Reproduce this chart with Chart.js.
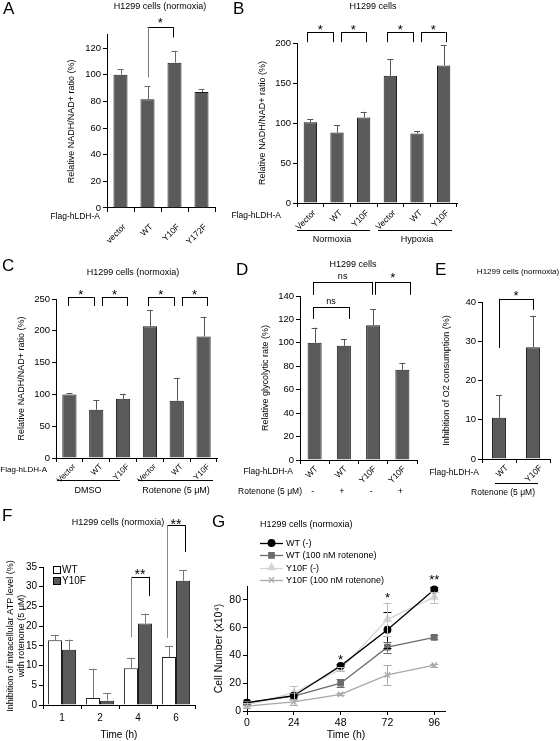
<!DOCTYPE html>
<html><head><meta charset="utf-8">
<script src="https://cdn.jsdelivr.net/npm/chart.js@4.4.1/dist/chart.umd.min.js"></script>
<style>
html,body{margin:0;padding:0;background:#fff;}
#wrap{position:relative;width:560px;height:741px;overflow:hidden;background:#fff;}
#wrap canvas{position:absolute;left:0;top:0;}
</style></head><body>
<div id="wrap">
<canvas id="cA" width="560" height="741"></canvas>
<canvas id="cB" width="560" height="741"></canvas>
<canvas id="cC" width="560" height="741"></canvas>
<canvas id="cD" width="560" height="741"></canvas>
<canvas id="cE" width="560" height="741"></canvas>
<canvas id="cF" width="560" height="741"></canvas>
<canvas id="cG" width="560" height="741"></canvas>
</div>
<script>
// ---------------- DATA ----------------
const aCats = ['vector', 'WT', 'Y10F', 'Y172F'];
const aVals = [100, 81.5, 109, 87];
const aErr  = [4, 10, 9, 2];

const bCats = ['Vector', 'WT', 'Y10F', 'Vector', 'WT', 'Y10F'];
const bVals = [101, 88, 107, 159, 87, 172];
const bErr  = [4, 9, 7, 21, 3, 25];
const bGroups = ['Normoxia', 'Hypoxia'];

const cCats = ['Vector', 'WT', 'Y10F', 'Vector', 'WT', 'Y10F'];
const cVals = [100, 76, 93, 207, 90, 191];
const cErr  = [2, 15, 8, 26, 36, 31];
const cGroups = ['DMSO', 'Rotenone (5 \u03bcM)'];

const dCats = ['WT', 'WT', 'Y10F', 'Y10F'];
const dRotenone = ['-', '+', '-', '+'];
const dVals = [100, 97.5, 115, 77];
const dErr  = [13, 5.5, 13.5, 5.5];

const eCats = ['WT', 'Y10F'];
const eVals = [10.5, 28.5];
const eErr  = [5.7, 8];

const fTimes = ['1', '2', '4', '6'];
const fWT     = [16.4, 1.8, 9.3, 12.2];
const fWTErr  = [1.4, 7.4, 2.7, 2.8];
const fY10F    = [14, 1.1, 20.7, 31.5];
const fY10FErr = [2.6, 1.9, 2.5, 2.7];

const gTimes = [0, 24, 48, 72, 96];
const gWT        = [6, 11, 32.5, 58.5, 87.5];
const gWTErr     = [1, 2, 1, 13, 1.5];
const gWTRot     = [6, 10.7, 20, 46, 53];
const gWTRotErr  = [1, 2, 3, 4, 1.5];
const gY10F      = [4.5, 13, 30, 66, 82];
const gY10FErr   = [1, 5, 1.5, 12, 4];
const gY10FRot   = [3.5, 6.5, 12, 26, 33];
const gY10FRotErr= [1, 2, 0.8, 7, 1];

// ---------------- HELPERS ----------------
const FONT = "'Liberation Sans', Arial, Helvetica, sans-serif";
const BAR = '#5a5a5a';

function txt(ctx, s, x, y, o = {}) {
  ctx.save();
  ctx.font = (o.size || 9) + 'px ' + FONT;
  ctx.fillStyle = o.color || '#000';
  ctx.textAlign = o.align || 'center';
  ctx.textBaseline = o.base || 'middle';
  ctx.fillText(s, x, y);
  ctx.restore();
}
function seg(ctx, x1, y1, x2, y2, color = '#000', w = 1) {
  ctx.save();
  ctx.strokeStyle = color; ctx.lineWidth = w;
  ctx.beginPath();
  if (x1 === x2) { const x = Math.round(x1) + 0.5; ctx.moveTo(x, y1); ctx.lineTo(x, y2); }
  else if (y1 === y2) { const y = Math.round(y1) + 0.5; ctx.moveTo(x1, y); ctx.lineTo(x2, y); }
  else { ctx.moveTo(x1, y1); ctx.lineTo(x2, y2); }
  ctx.stroke(); ctx.restore();
}
function star(ctx, s, x, yPix, size = 13) {
  txt(ctx, s, x, yPix + 0.57 * size, { size, base: 'alphabetic' });
}
function letter(ctx, s, x, y) {
  txt(ctx, s, x, y, { size: 17, align: 'left', base: 'top' });
}
function bracket(ctx, x1, x2, yTop, yL, yR, cL = '#000', cR = '#000') {
  seg(ctx, x1, yTop, x2, yTop, '#000');
  seg(ctx, x1, yTop, x1, yL, cL);
  seg(ctx, x2, yTop, x2, yR, cR);
}
function barErrors(chart, di, errs, color, cap) {
  const ctx = chart.ctx, y = chart.scales.y;
  const vals = chart.data.datasets[di].data;
  chart.getDatasetMeta(di).data.forEach((el, j) => {
    const y0 = y.getPixelForValue(vals[j]);
    const y1 = y.getPixelForValue(vals[j] + errs[j]);
    seg(ctx, el.x, y0, el.x, y1, color);
    seg(ctx, el.x - cap / 2, y1, el.x + cap / 2, y1, color);
  });
}

function makeBar(id, o) {
  const nLines = Array.isArray(o.yTitle) ? o.yTitle.length : 1;
  const lh = o.titleSize * (o.titleLH || 1.2) * nLines;
  const padLeft = o.yTitleX - lh / 2;
  const yW = o.plot.l - padLeft;
  const datasets = o.series.map(s => ({
    data: s.data, backgroundColor: s.bg, borderColor: '#1e1e1e', borderWidth: 1,
    borderSkipped: 'bottom', barPercentage: o.barPct, categoryPercentage: o.catPct
  }));
  return new Chart(document.getElementById(id), {
    type: 'bar',
    data: { labels: o.cats, datasets },
    options: {
      responsive: false, animation: false, events: [],
      layout: { padding: { left: padLeft, top: o.plot.t, right: 560 - o.plot.r, bottom: 741 - o.plot.b - o.xH } },
      plugins: { legend: { display: false }, tooltip: { enabled: false } },
      scales: {
        x: {
          type: 'category', offset: true,
          grid: { offset: true, drawOnChartArea: false, tickLength: 4, color: '#000' },
          border: { color: '#000', width: 1 },
          ticks: { autoSkip: false, minRotation: o.rot, maxRotation: o.rot, font: { family: FONT, size: o.xFont }, color: '#000', padding: o.xPad, labelOffset: o.xOff || 0 },
          title: o.xTitle ? { display: true, text: o.xTitle, font: { family: FONT, size: o.xTitleSize }, color: '#000', padding: 0 } : { display: false },
          afterFit: s => { s.height = o.xH; }
        },
        y: {
          min: 0, max: o.ymax,
          ticks: { stepSize: o.step, font: { family: FONT, size: o.yFont }, color: '#000', padding: 2,
                   callback: v => (Math.abs(v % o.labelStep) < 1e-9 ? String(v) : '') },
          grid: { drawOnChartArea: false, tickLength: 4, color: '#000' },
          border: { color: '#000', width: 1 },
          title: { display: true, text: o.yTitle, font: { family: FONT, size: o.titleSize, lineHeight: o.titleLH || 1.2 }, color: '#000', padding: 0 },
          afterFit: s => { s.width = yW; }
        }
      }
    },
    plugins: [{ id: 'ov' + id, afterDraw(chart) { o.draw(chart, chart.ctx); } }]
  });
}

// pairs: [i, j, dx1, dx2]
function pairBrackets(chart, ctx, pairs, topV, legV, starV) {
  const y = chart.scales.y, m = chart.getDatasetMeta(0).data;
  pairs.forEach(([i, j, dx1, dx2]) => {
    const x1 = m[i].x + dx1, x2 = m[j].x + dx2;
    bracket(ctx, x1, x2, y.getPixelForValue(topV), y.getPixelForValue(legV), y.getPixelForValue(legV));
    star(ctx, '*', (x1 + x2) / 2, y.getPixelForValue(starV), 13);
  });
}

// ---------------- PANEL A ----------------
makeBar('cA', {
  cats: aCats, series: [{ data: aVals, bg: BAR }],
  plot: { l: 107, r: 215, t: 34.7, b: 208 }, ymax: 130, step: 10, labelStep: 20,
  yTitle: 'Relative NADH/NAD+ ratio (%)', yTitleX: 72, titleSize: 9,
  rot: 45, xFont: 8.5, xPad: 10, xOff: 4, xH: 50, yFont: 9.5, barPct: 0.52, catPct: 1,
  draw(chart, ctx) {
    barErrors(chart, 0, aErr, '#6a6a6a', 6);
    const y = chart.scales.y, m = chart.getDatasetMeta(0).data;
    const x1 = m[1].x, x2 = m[2].x - 1.5;
    bracket(ctx, x1, x2, y.getPixelForValue(135.7), y.getPixelForValue(98), y.getPixelForValue(128), '#777', '#000');
    star(ctx, '*', (x1 + x2) / 2, y.getPixelForValue(141), 13);
    txt(ctx, 'Flag-hLDH-A', 100, 217, { align: 'right', size: 8.5 });
    txt(ctx, 'H1299 cells (normoxia)', 160, 7, { size: 9 });
    letter(ctx, 'A', 3, 1);
  }
});

// ---------------- PANEL B ----------------
makeBar('cB', {
  cats: bCats, series: [{ data: bVals, bg: BAR }],
  plot: { l: 297, r: 457, t: 43, b: 203 }, ymax: 200, step: 50, labelStep: 50,
  yTitle: 'Relative NADH/NAD+ ratio (%)', yTitleX: 263, titleSize: 9,
  rot: 45, xFont: 8.5, xPad: 1, xOff: 4, xH: 50, yFont: 9.5, barPct: 0.5, catPct: 1,
  draw(chart, ctx) {
    barErrors(chart, 0, bErr, '#555', 6);
    pairBrackets(chart, ctx, [[0, 1, -3, -4], [1, 2, 4, 2], [3, 4, -3, -4], [4, 5, 4, 2]], 213.75, 201, 220);
    txt(ctx, 'Flag-hLDH-A', 281, 216, { align: 'right', size: 8.5 });
    seg(ctx, 297, 230, 370, 230); seg(ctx, 378, 230, 452, 230);
    txt(ctx, bGroups[0], 332, 240, { size: 9 });
    txt(ctx, bGroups[1], 417, 240, { size: 9 });
    txt(ctx, 'H1299 cells', 373, 7, { size: 9 });
    letter(ctx, 'B', 233, 1);
  }
});

// ---------------- PANEL C ----------------
makeBar('cC', {
  cats: cCats, series: [{ data: cVals, bg: BAR }],
  plot: { l: 56, r: 217, t: 299, b: 458 }, ymax: 250, step: 50, labelStep: 50,
  yTitle: 'Relative NADH/NAD+ ratio (%)', yTitleX: 22, titleSize: 9,
  rot: 45, xFont: 8, xPad: 0, xOff: 5, xH: 50, yFont: 9.5, barPct: 0.53, catPct: 1,
  draw(chart, ctx) {
    barErrors(chart, 0, cErr, '#555', 6);
    pairBrackets(chart, ctx, [[0, 1, -1.5, -2.5], [1, 2, 5.5, 4], [3, 4, -2, -3], [4, 5, 5, 3.5]], 253, 239, 261);
    txt(ctx, 'Flag-hLDH-A', 47, 470, { align: 'right', size: 8 });
    seg(ctx, 57, 480, 120, 480); seg(ctx, 138, 480, 213, 480);
    txt(ctx, cGroups[0], 88, 490.5, { size: 9 });
    txt(ctx, cGroups[1], 176, 490.5, { size: 9 });
    txt(ctx, 'H1299 cells (normoxia)', 133, 273, { size: 9 });
    letter(ctx, 'C', 2, 258);
  }
});

// ---------------- PANEL D ----------------
makeBar('cD', {
  cats: dCats, series: [{ data: dVals, bg: BAR }],
  plot: { l: 300, r: 417, t: 296, b: 460 }, ymax: 140, step: 20, labelStep: 20,
  yTitle: 'Relative glycolytic rate (%)', yTitleX: 266, titleSize: 9,
  rot: 45, xFont: 8.5, xPad: 0, xOff: 2, xH: 50, yFont: 9.5, barPct: 0.48, catPct: 1,
  draw(chart, ctx) {
    barErrors(chart, 0, dErr, '#555', 6);
    const y = chart.scales.y, m = chart.getDatasetMeta(0).data;
    let x1 = m[0].x - 1.5, x2 = m[2].x - 1;
    bracket(ctx, x1, x2, y.getPixelForValue(152), y.getPixelForValue(141), y.getPixelForValue(141));
    txt(ctx, 'ns', (x1 + x2) / 2, y.getPixelForValue(156.5), { size: 9 });
    x2 = m[1].x + 5;
    bracket(ctx, x1, x2, y.getPixelForValue(130.6), y.getPixelForValue(120.4), y.getPixelForValue(120.4));
    txt(ctx, 'ns', (x1 + x2) / 2, y.getPixelForValue(135), { size: 9 });
    x1 = m[2].x + 2; x2 = m[3].x + 8;
    bracket(ctx, x1, x2, y.getPixelForValue(152), y.getPixelForValue(141), y.getPixelForValue(141));
    star(ctx, '*', (x1 + x2) / 2, y.getPixelForValue(158), 13);
    txt(ctx, 'Flag-hLDH-A', 293, 472, { align: 'right', size: 8.5 });
    txt(ctx, 'Rotenone (5 \u03bcM)', 302, 492, { align: 'right', size: 8.5 });
    m.forEach((el, i) => txt(ctx, dRotenone[i], el.x - 2, 492, { size: 9 }));
    txt(ctx, 'H1299 cells', 353, 265, { size: 9 });
    letter(ctx, 'D', 236, 262);
  }
});

// ---------------- PANEL E ----------------
makeBar('cE', {
  cats: eCats, series: [{ data: eVals, bg: BAR }],
  plot: { l: 482, r: 550, t: 302, b: 459 }, ymax: 40, step: 10, labelStep: 10,
  yTitle: 'Inhibition of O2 consumption (%)', yTitleX: 447, titleSize: 9,
  rot: 45, xFont: 8.5, xPad: 0, xOff: 8, xH: 50, yFont: 9.5, barPct: 0.41, catPct: 1,
  draw(chart, ctx) {
    barErrors(chart, 0, eErr, '#555', 6);
    const y = chart.scales.y, m = chart.getDatasetMeta(0).data;
    const x1 = m[0].x, x2 = m[1].x;
    bracket(ctx, x1, x2, y.getPixelForValue(40.8), y.getPixelForValue(28.3), y.getPixelForValue(38));
    star(ctx, '*', (x1 + x2) / 2, y.getPixelForValue(42.5), 13);
    txt(ctx, 'Flag-hLDH-A', 479, 473, { align: 'right', size: 8.5 });
    seg(ctx, 495, 483, 538, 483);
    txt(ctx, 'Rotenone (5 \u03bcM)', 503, 493, { size: 8.5 });
    txt(ctx, 'H1299 cells (normoxia)', 518, 272, { size: 8 });
    letter(ctx, 'E', 435, 262);
  }
});

// ---------------- PANEL F ----------------
makeBar('cF', {
  cats: fTimes, series: [{ data: fWT, bg: '#ffffff' }, { data: fY10F, bg: BAR }],
  plot: { l: 43, r: 195, t: 567, b: 705 }, ymax: 35, step: 5, labelStep: 5,
  yTitle: ['Inhibition of intracellular ATP level (%)', 'with rotenone (5 \u03bcM)'], yTitleX: 16.5, titleSize: 9, titleLH: 1.22,
  rot: 0, xFont: 10, xPad: 3, xH: 36, xTitle: 'Time (h)', xTitleSize: 10, yFont: 10, barPct: 1, catPct: 0.74,
  draw(chart, ctx) {
    barErrors(chart, 0, fWTErr, '#777', 8);
    barErrors(chart, 1, fY10FErr, '#777', 8);
    const y = chart.scales.y, w = chart.getDatasetMeta(0).data, yf = chart.getDatasetMeta(1).data;
    let x1 = w[2].x, x2 = yf[2].x + 4;
    bracket(ctx, x1, x2, y.getPixelForValue(32.5), y.getPixelForValue(17.2), y.getPixelForValue(27.6), '#888', '#000');
    star(ctx, '**', (x1 + x2) / 2, y.getPixelForValue(33.9), 14);
    x1 = w[3].x - 2; x2 = yf[3].x + 2;
    bracket(ctx, x1, x2, y.getPixelForValue(45.6), y.getPixelForValue(17), y.getPixelForValue(38.8), '#888', '#000');
    star(ctx, '**', (x1 + x2) / 2, y.getPixelForValue(46.6), 14);
    ctx.save();
    ctx.fillStyle = '#fff'; ctx.strokeStyle = '#000'; ctx.lineWidth = 1;
    ctx.fillRect(53.5, 566.5, 7, 7); ctx.strokeRect(53.5, 566.5, 7, 7);
    ctx.fillStyle = BAR;
    ctx.fillRect(53.5, 577.5, 7, 7); ctx.strokeRect(53.5, 577.5, 7, 7);
    ctx.restore();
    txt(ctx, 'WT', 62, 570.5, { align: 'left', size: 10 });
    txt(ctx, 'Y10F', 62, 581.5, { align: 'left', size: 10 });
    txt(ctx, 'H1299 cells (normoxia)', 118, 523, { size: 9 });
    letter(ctx, 'F', 2, 508);
  }
});

// ---------------- PANEL G ----------------
(function () {
  const plot = { l: 247, r: 445, t: 586, b: 711 };
  const tSize = 10.5, lh = tSize * 1.2, yTitleX = 219;
  const padLeft = yTitleX - lh / 2, yW = plot.l - padLeft, xH = 30;
  const series = [
    { label: 'WT (-)', vals: gWT, err: gWTErr, color: '#000000', style: 'circle', r: 3.3, order: 1 },
    { label: 'WT (100 nM rotenone)', vals: gWTRot, err: gWTRotErr, color: '#6b6b6b', style: 'rect', r: 3.8, order: 2 },
    { label: 'Y10F (-)', vals: gY10F, err: gY10FErr, color: '#d4d4d4', style: 'triangle', r: 4, order: 3 },
    { label: 'Y10F (100 nM rotenone)', vals: gY10FRot, err: gY10FRotErr, color: '#a8a8a8', style: 'crossRot', r: 3.8, order: 4 }
  ];
  new Chart(document.getElementById('cG'), {
    type: 'line',
    data: {
      datasets: series.map(s => ({
        label: s.label, data: gTimes.map((t, i) => ({ x: t, y: s.vals[i] })),
        borderColor: s.color, backgroundColor: s.color, pointBackgroundColor: s.color, pointBorderColor: s.color,
        pointStyle: s.style, pointRadius: s.r, pointBorderWidth: 1.3, borderWidth: 1.3, tension: 0, order: s.order, clip: false
      }))
    },
    options: {
      responsive: false, animation: false, events: [],
      layout: { padding: { left: padLeft, top: plot.t, right: 560 - plot.r, bottom: 741 - plot.b - xH } },
      plugins: { legend: { display: false }, tooltip: { enabled: false } },
      scales: {
        x: {
          type: 'linear', min: 0, max: 101.5,
          ticks: { stepSize: 24, includeBounds: false, font: { family: FONT, size: 10.5 }, color: '#000', padding: 2 },
          grid: { drawOnChartArea: false, tickLength: 4, color: '#000' },
          border: { color: '#000', width: 1 },
          title: { display: true, text: 'Time (h)', font: { family: FONT, size: 10.5 }, color: '#000', padding: 0 },
          afterFit: s => { s.height = xH; }
        },
        y: {
          min: 0, max: 90,
          ticks: { stepSize: 10, font: { family: FONT, size: 10.5 }, color: '#000', padding: 2 },
          grid: { drawOnChartArea: false, tickLength: 4, color: '#000' },
          border: { color: '#000', width: 1 },
          title: { display: true, text: 'Cell Number (x10\u2074)', font: { family: FONT, size: tSize }, color: '#000', padding: 0 },
          afterFit: s => { s.width = yW; }
        }
      }
    },
    plugins: [{
      id: 'ovG',
      afterDatasetsDraw(chart) {
        const ctx = chart.ctx, y = chart.scales.y, x = chart.scales.x;
        series.forEach((s, di) => {
          const meta = chart.getDatasetMeta(di);
          const ec = di === 2 ? '#bdbdbd' : s.color;
          meta.data.forEach((el, j) => {
            const hi = y.getPixelForValue(s.vals[j] + s.err[j]);
            const lo = y.getPixelForValue(s.vals[j] - s.err[j]);
            seg(ctx, el.x, hi, el.x, lo, ec);
            seg(ctx, el.x - 4, hi, el.x + 4, hi, ec);
            seg(ctx, el.x - 4, lo, el.x + 4, lo, ec);
          });
        });
        star(ctx, '*', x.getPixelForValue(48), y.getPixelForValue(39.5), 13);
        star(ctx, '*', x.getPixelForValue(72), y.getPixelForValue(84), 13);
        star(ctx, '**', x.getPixelForValue(96), y.getPixelForValue(97), 13);
        series.forEach((s, i) => {
          const ly = 543 + i * 12.3;
          seg(ctx, 260, ly, 283, ly, s.color, 1.3);
          ctx.save();
          ctx.fillStyle = s.color; ctx.strokeStyle = s.color;
          Chart.helpers.drawPoint(ctx, { pointStyle: s.style, radius: s.r, rotation: 0, borderWidth: 1.3 }, 271.5, ly);
          ctx.restore();
          txt(ctx, s.label, 286, ly + 0.5, { align: 'left', size: 9 });
        });
        txt(ctx, 'H1299 cells (normoxia)', 260, 525, { align: 'left', size: 9 });
        letter(ctx, 'G', 212, 514);
      }
    }]
  });
})();
</script>
</body></html>
